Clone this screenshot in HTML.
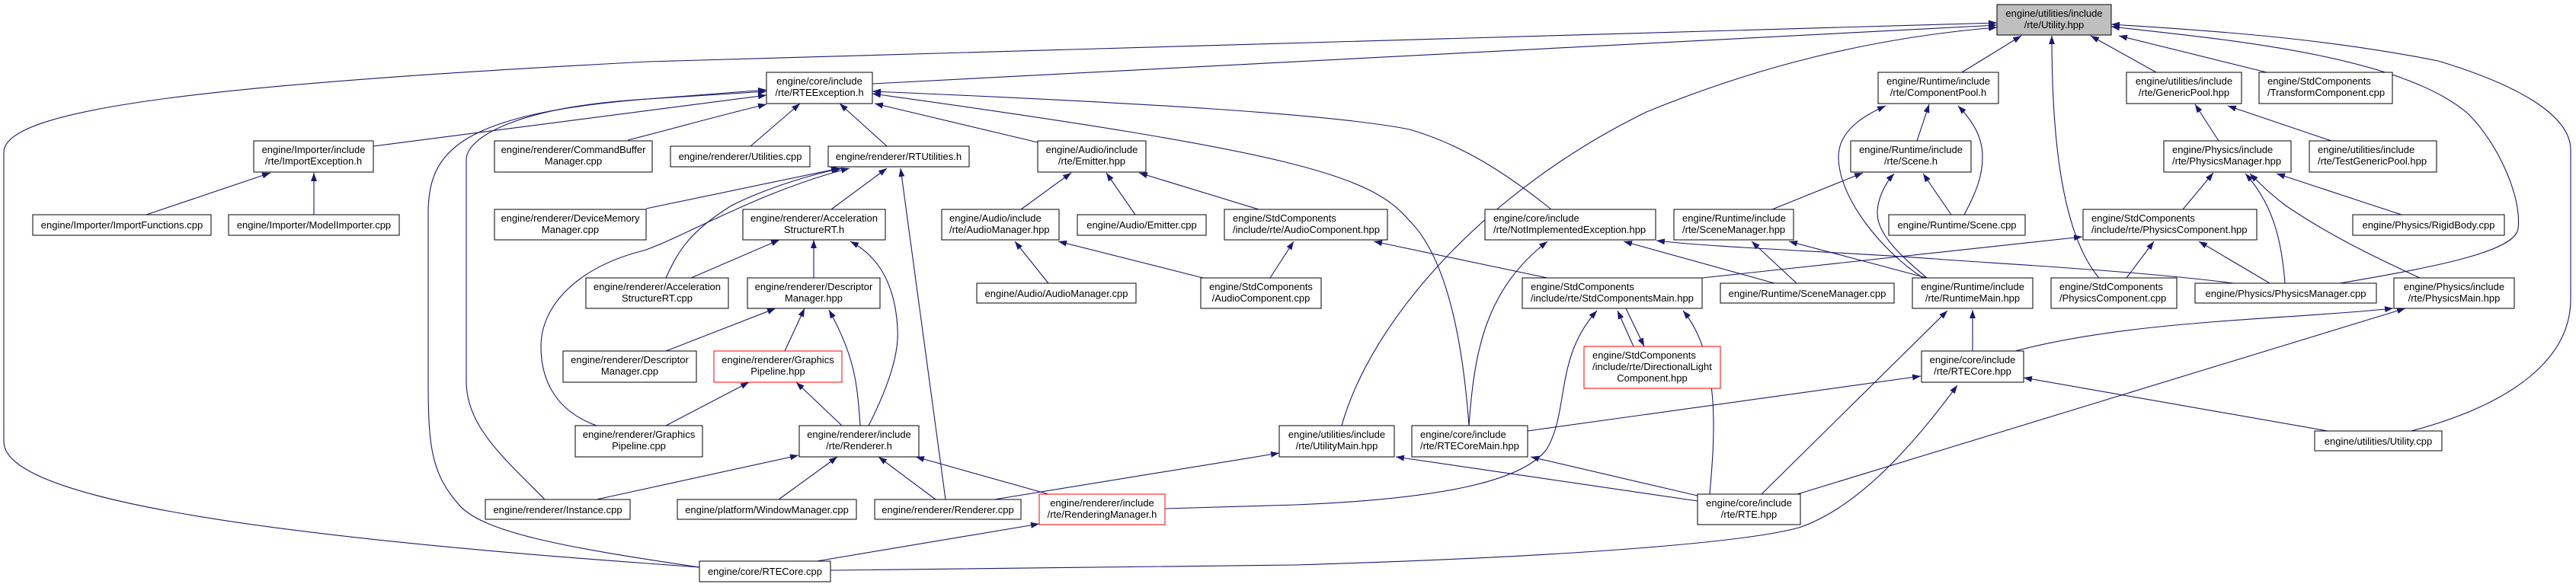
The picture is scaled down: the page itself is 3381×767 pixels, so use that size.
<!DOCTYPE html>
<html><head><meta charset="utf-8"><style>
html,body{margin:0;padding:0;background:#fff;}
svg{display:block;}
text{font-family:"Liberation Sans",sans-serif;font-size:13px;fill:#000;}
.e{fill:none;stroke:#191970;stroke-width:1.1;marker-end:url(#a);}
.n{fill:#fff;stroke:#000;stroke-width:1;}
.r{fill:#fff;stroke:#ff0000;stroke-width:1;}
.g{fill:#bfbfbf;stroke:#000;stroke-width:1;}
</style></head><body>
<svg width="3381" height="767" xmlns="http://www.w3.org/2000/svg">
<defs><marker id="a" markerWidth="11" markerHeight="8" refX="11" refY="4" orient="auto" markerUnits="userSpaceOnUse"><path d="M0,0 L11,4 L0,8 z" fill="#191970"/></marker></defs>
<g>
<!-- edges into Utility.hpp -->
<path class="e" d="M1145,110 L2621,33"/>
<path class="e" d="M918,745 L850,740 C300,700 5,650 5,580 L5,200 C5,140 300,110 850,81 L2621,30"/>
<path class="e" d="M1761,559 C1800,420 1950,250 2161,147 C2300,90 2450,50 2621,36"/>
<path class="e" d="M2575,95 L2653,47"/>
<path class="e" d="M2755,365 C2700,300 2693,150 2693,47"/>
<path class="e" d="M2830,95 L2744,47"/>
<path class="e" d="M2975,95 L2781,47"/>
<path class="e" d="M3071,372 C3200,350 3302,330 3305,300 C3310,260 3280,190 3240,150 C3150,70 2900,50 2771,35"/>
<path class="e" d="M3165,566 C3300,530 3374,470 3374,393 L3374,197 C3374,150 3300,110 3200,80 C3050,50 2900,40 2771,32"/>
<!-- into RTEException -->
<path class="e" d="M490,192 L1006,125"/>
<path class="e" d="M824,184 C880,170 950,150 1006,137"/>
<path class="e" d="M715,656 C660,600 612,560 612,500 L612,210 C612,180 680,140 850,130 L1006,120"/>
<path class="e" d="M918,745 C750,720 629,700 600,660 C565,620 562,580 562,500 L562,280 C562,200 600,150 850,130 L1006,118"/>
<path class="e" d="M985,192 L1050,136"/>
<path class="e" d="M1164,192 L1102,136"/>
<path class="e" d="M1362,187 L1148,136"/>
<path class="e" d="M2036,275 C1980,230 1920,190 1850,170 C1750,150 1500,135 1145,120"/>
<path class="e" d="M1928,559 C1920,450 1900,340 1850,290 C1800,230 1700,200 1145,123"/>
<!-- into RTUtilities.h -->
<path class="e" d="M848,274 L1102,221"/>
<path class="e" d="M874,365 C890,330 904,305 960,270 C1010,245 1070,228 1105,221"/>
<path class="e" d="M783,559 C730,540 710,500 710,455 C710,400 760,350 845,329 C900,310 1000,250 1115,221"/>
<path class="e" d="M1091,275 L1164,221"/>
<path class="e" d="M1241,656 L1182,221"/>
<!-- AccelerationStructureRT.h -->
<path class="e" d="M907,365 L1023,315"/>
<path class="e" d="M1068,365 L1068,315"/>
<path class="e" d="M1140,559 C1170,500 1180,460 1178,432 C1175,370 1150,335 1116,317"/>
<!-- DescriptorManager.hpp -->
<path class="e" d="M874,461 L1018,405"/>
<path class="e" d="M1030,461 L1056,405"/>
<path class="e" d="M1129,559 C1125,500 1121,467 1088,407"/>
<!-- GraphicsPipeline.hpp -->
<path class="e" d="M874,559 L983,502"/>
<path class="e" d="M1105,559 L1045,502"/>
<!-- Renderer.h -->
<path class="e" d="M783,656 L1048,598"/>
<path class="e" d="M1022,656 L1099,600"/>
<path class="e" d="M1228,656 L1153,600"/>
<path class="e" d="M1376,649 L1202,600"/>
<!-- RenderingManager -->
<path class="e" d="M1072,737 L1364,688"/>
<path class="e" d="M1529,668 L1700,663 C1900,655 2000,630 2030,590 C2060,540 2040,470 2096,408"/>
<path class="e" d="M1305,656 L1679,595"/>
<path class="e" d="M2005,566 L2521,494"/>
<path class="e" d="M1090,749 L1700,742 C2100,730 2300,710 2361,693 C2430,670 2500,600 2569,506"/>
<!-- RTE.hpp -->
<path class="e" d="M2228,658 L1832,600"/>
<path class="e" d="M2228,651 L2009,600"/>
<path class="e" d="M2244,649 C2250,580 2260,470 2209,408"/>
<path class="e" d="M2312,649 L2556,408"/>
<path class="e" d="M2359,649 L3157,405"/>
<path class="e" d="M3055,566 L2656,496"/>
<path class="e" d="M2589,461 L2589,407"/>
<path class="e" d="M2645,461 C2800,420 3000,420 3141,405"/>
<!-- StdComponentsMain / DirLight -->
<path class="e" d="M2144,455 L2123,408"/>
<path class="e" d="M2134,405 L2158,455"/>
<path class="e" d="M2031,365 L1803,317"/>
<path class="e" d="M2234,365 L2733,311"/>
<path class="e" d="M2329,372 L2131,317"/>
<path class="e" d="M2358,372 L2299,317"/>
<path class="e" d="M2529,365 L2348,317"/>
<path class="e" d="M2932,372 C2800,355 2600,345 2540,340 C2400,330 2250,325 2174,316"/>
<path class="e" d="M1928,559 C1935,460 1950,380 2031,317"/>
<path class="e" d="M2326,275 L2445,227"/>
<path class="e" d="M2529,365 C2500,340 2464,310 2464,280 C2464,260 2475,240 2486,228"/>
<path class="e" d="M2524,365 C2470,330 2413,260 2413,206 C2413,170 2450,150 2475,139"/>
<path class="e" d="M2561,282 L2524,228"/>
<path class="e" d="M2578,282 C2595,250 2602,230 2602,206 C2602,180 2590,160 2570,139"/>
<path class="e" d="M2516,185 L2532,137"/>
<!-- Physics / Generic -->
<path class="e" d="M2912,185 L2881,137"/>
<path class="e" d="M3060,185 L2924,139"/>
<path class="e" d="M2865,275 L2905,227"/>
<path class="e" d="M2999,372 C2995,320 2985,270 2947,228"/>
<path class="e" d="M3176,365 C3100,330 3050,304 3000,270 C2980,255 2965,240 2953,228"/>
<path class="e" d="M3152,282 L2988,228"/>
<path class="e" d="M2791,365 L2827,317"/>
<path class="e" d="M2979,372 L2886,317"/>
<!-- Audio -->
<path class="e" d="M1340,275 L1406,227"/>
<path class="e" d="M1490,282 L1452,227"/>
<path class="e" d="M1652,275 L1495,227"/>
<path class="e" d="M1376,372 L1332,317"/>
<path class="e" d="M1579,365 L1389,317"/>
<path class="e" d="M1667,365 L1698,317"/>
<!-- Importer -->
<path class="e" d="M192,282 L355,227"/>
<path class="e" d="M412,282 L412,227"/>
</g>
<g>
<rect class="g" x="2621" y="6" width="150" height="40"/><text x="2696" y="22" text-anchor="middle">engine/utilities/include</text><text x="2696" y="37" text-anchor="middle">/rte/Utility.hpp</text>
<rect class="n" x="1006" y="95" width="139" height="41"/><text x="1075.5" y="111" text-anchor="middle">engine/core/include</text><text x="1075.5" y="126" text-anchor="middle">/rte/RTEException.h</text>
<rect class="n" x="2465" y="95" width="158" height="41"/><text x="2544" y="111" text-anchor="middle">engine/Runtime/include</text><text x="2544" y="126" text-anchor="middle">/rte/ComponentPool.h</text>
<rect class="n" x="2791" y="95" width="151" height="41"/><text x="2866.5" y="111" text-anchor="middle">engine/utilities/include</text><text x="2866.5" y="126" text-anchor="middle">/rte/GenericPool.hpp</text>
<rect class="n" x="2965" y="95" width="175" height="41"/><text x="2976" y="111">engine/StdComponents</text><text x="2976" y="126">/TransformComponent.cpp</text>
<rect class="n" x="333" y="185" width="157" height="41"/><text x="411.5" y="201" text-anchor="middle">engine/Importer/include</text><text x="411.5" y="216" text-anchor="middle">/rte/ImportException.h</text>
<rect class="n" x="649" y="185" width="207" height="41"/><text x="752.5" y="201" text-anchor="middle">engine/renderer/CommandBuffer</text><text x="752.5" y="216" text-anchor="middle">Manager.cpp</text>
<rect class="n" x="880" y="192" width="183" height="27"/><text x="971.5" y="210" text-anchor="middle">engine/renderer/Utilities.cpp</text>
<rect class="n" x="1087" y="192" width="185" height="27"/><text x="1179.5" y="210" text-anchor="middle">engine/renderer/RTUtilities.h</text>
<rect class="n" x="1362" y="185" width="142" height="41"/><text x="1433" y="201" text-anchor="middle">engine/Audio/include</text><text x="1433" y="216" text-anchor="middle">/rte/Emitter.hpp</text>
<rect class="n" x="2429" y="185" width="158" height="41"/><text x="2508" y="201" text-anchor="middle">engine/Runtime/include</text><text x="2508" y="216" text-anchor="middle">/rte/Scene.h</text>
<rect class="n" x="2840" y="185" width="167" height="41"/><text x="2851" y="201">engine/Physics/include</text><text x="2851" y="216">/rte/PhysicsManager.hpp</text>
<rect class="n" x="3031" y="185" width="167" height="41"/><text x="3042" y="201">engine/utilities/include</text><text x="3042" y="216">/rte/TestGenericPool.hpp</text>
<rect class="n" x="43" y="282" width="234" height="27"/><text x="160" y="300" text-anchor="middle">engine/Importer/ImportFunctions.cpp</text>
<rect class="n" x="300" y="282" width="224" height="27"/><text x="412" y="300" text-anchor="middle">engine/Importer/ModelImporter.cpp</text>
<rect class="n" x="649" y="275" width="199" height="40"/><text x="748.5" y="291" text-anchor="middle">engine/renderer/DeviceMemory</text><text x="748.5" y="306" text-anchor="middle">Manager.cpp</text>
<rect class="n" x="975" y="275" width="187" height="40"/><text x="1068.5" y="291" text-anchor="middle">engine/renderer/Acceleration</text><text x="1068.5" y="306" text-anchor="middle">StructureRT.h</text>
<rect class="n" x="1236" y="275" width="154" height="40"/><text x="1246" y="291">engine/Audio/include</text><text x="1246" y="306">/rte/AudioManager.hpp</text>
<rect class="n" x="1414" y="282" width="169" height="27"/><text x="1498.5" y="300" text-anchor="middle">engine/Audio/Emitter.cpp</text>
<rect class="n" x="1607" y="275" width="214" height="40"/><text x="1618" y="291">engine/StdComponents</text><text x="1618" y="306">/include/rte/AudioComponent.hpp</text>
<rect class="n" x="1949" y="275" width="224" height="40"/><text x="1960" y="291">engine/core/include</text><text x="1960" y="306">/rte/NotImplementedException.hpp</text>
<rect class="n" x="2197" y="275" width="157" height="40"/><text x="2208" y="291">engine/Runtime/include</text><text x="2208" y="306">/rte/SceneManager.hpp</text>
<rect class="n" x="2479" y="282" width="179" height="27"/><text x="2568.5" y="300" text-anchor="middle">engine/Runtime/Scene.cpp</text>
<rect class="n" x="2734" y="275" width="228" height="40"/><text x="2745" y="291">engine/StdComponents</text><text x="2745" y="306">/include/rte/PhysicsComponent.hpp</text>
<rect class="n" x="3088" y="282" width="199" height="27"/><text x="3187.5" y="300" text-anchor="middle">engine/Physics/RigidBody.cpp</text>
<rect class="n" x="769" y="365" width="187" height="40"/><text x="862.5" y="381" text-anchor="middle">engine/renderer/Acceleration</text><text x="862.5" y="396" text-anchor="middle">StructureRT.cpp</text>
<rect class="n" x="981" y="365" width="174" height="40"/><text x="1068" y="381" text-anchor="middle">engine/renderer/Descriptor</text><text x="1068" y="396" text-anchor="middle">Manager.hpp</text>
<rect class="n" x="1282" y="372" width="209" height="26"/><text x="1386.5" y="390" text-anchor="middle">engine/Audio/AudioManager.cpp</text>
<rect class="n" x="1576" y="365" width="158" height="40"/><text x="1655" y="381" text-anchor="middle">engine/StdComponents</text><text x="1655" y="396" text-anchor="middle">/AudioComponent.cpp</text>
<rect class="n" x="1998" y="365" width="236" height="40"/><text x="2009" y="381">engine/StdComponents</text><text x="2009" y="396">/include/rte/StdComponentsMain.hpp</text>
<rect class="n" x="2258" y="372" width="228" height="26"/><text x="2372" y="390" text-anchor="middle">engine/Runtime/SceneManager.cpp</text>
<rect class="n" x="2510" y="365" width="158" height="40"/><text x="2589" y="381" text-anchor="middle">engine/Runtime/include</text><text x="2589" y="396" text-anchor="middle">/rte/RuntimeMain.hpp</text>
<rect class="n" x="2692" y="365" width="165" height="40"/><text x="2703" y="381">engine/StdComponents</text><text x="2703" y="396">/PhysicsComponent.cpp</text>
<rect class="n" x="2881" y="372" width="238" height="26"/><text x="3000" y="390" text-anchor="middle">engine/Physics/PhysicsManager.cpp</text>
<rect class="n" x="3142" y="365" width="158" height="40"/><text x="3221" y="381" text-anchor="middle">engine/Physics/include</text><text x="3221" y="396" text-anchor="middle">/rte/PhysicsMain.hpp</text>
<rect class="n" x="739" y="461" width="175" height="41"/><text x="826.5" y="477" text-anchor="middle">engine/renderer/Descriptor</text><text x="826.5" y="492" text-anchor="middle">Manager.cpp</text>
<rect class="r" x="937" y="461" width="168" height="41"/><text x="1021" y="477" text-anchor="middle">engine/renderer/Graphics</text><text x="1021" y="492" text-anchor="middle">Pipeline.hpp</text>
<rect class="r" x="2079" y="455" width="179" height="55"/><text x="2090" y="471">engine/StdComponents</text><text x="2090" y="486">/include/rte/DirectionalLight</text><text x="2168.5" y="501" text-anchor="middle">Component.hpp</text>
<rect class="n" x="2522" y="461" width="134" height="41"/><text x="2589" y="477" text-anchor="middle">engine/core/include</text><text x="2589" y="492" text-anchor="middle">/rte/RTECore.hpp</text>
<rect class="n" x="755" y="559" width="167" height="41"/><text x="838.5" y="575" text-anchor="middle">engine/renderer/Graphics</text><text x="838.5" y="590" text-anchor="middle">Pipeline.cpp</text>
<rect class="n" x="1049" y="559" width="157" height="41"/><text x="1127.5" y="575" text-anchor="middle">engine/renderer/include</text><text x="1127.5" y="590" text-anchor="middle">/rte/Renderer.h</text>
<rect class="n" x="1679" y="559" width="151" height="41"/><text x="1754.5" y="575" text-anchor="middle">engine/utilities/include</text><text x="1754.5" y="590" text-anchor="middle">/rte/UtilityMain.hpp</text>
<rect class="n" x="1853" y="559" width="152" height="41"/><text x="1864" y="575">engine/core/include</text><text x="1864" y="590">/rte/RTECoreMain.hpp</text>
<rect class="n" x="3038" y="566" width="167" height="26"/><text x="3121.5" y="584" text-anchor="middle">engine/utilities/Utility.cpp</text>
<rect class="n" x="637" y="656" width="190" height="26"/><text x="732" y="674" text-anchor="middle">engine/renderer/Instance.cpp</text>
<rect class="n" x="889" y="656" width="235" height="26"/><text x="1006.5" y="674" text-anchor="middle">engine/platform/WindowManager.cpp</text>
<rect class="n" x="1148" y="656" width="192" height="26"/><text x="1244" y="674" text-anchor="middle">engine/renderer/Renderer.cpp</text>
<rect class="r" x="1364" y="649" width="165" height="40"/><text x="1446.5" y="665" text-anchor="middle">engine/renderer/include</text><text x="1446.5" y="680" text-anchor="middle">/rte/RenderingManager.h</text>
<rect class="n" x="2228" y="649" width="135" height="40"/><text x="2295.5" y="665" text-anchor="middle">engine/core/include</text><text x="2295.5" y="680" text-anchor="middle">/rte/RTE.hpp</text>
<rect class="n" x="918" y="737" width="172" height="27"/><text x="1004" y="755" text-anchor="middle">engine/core/RTECore.cpp</text>
</g>
</svg>
</body></html>
